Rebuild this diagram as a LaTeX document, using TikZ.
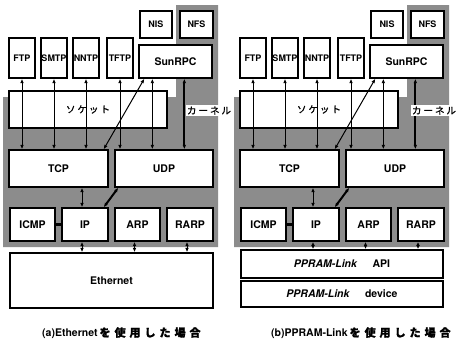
\documentclass[tikz,border=0pt]{standalone}
\usepackage{fontspec}
\setmainfont{TeX Gyre Heros}
\newfontfamily\jp[FakeBold=1.2]{Noto Sans CJK JP}
\usetikzlibrary{arrows.meta}
\newcommand\drawstack[2]{% #1 prefix, #2 x of kernel label
  \fill[kernarea] (3,97) -- (176,97) -- (176,5) -- (218,5) -- (218,247) -- (3,247) -- cycle;
  \node[sbox, minimum width=32pt, minimum height=27pt] (#1NIS) at (156,24.5) {NIS};
  \node[sbox, minimum width=33pt, minimum height=27pt] (#1NFS) at (196.5,24.5) {NFS};
  \node[sbox, minimum width=26pt, minimum height=40pt] (#1FTP) at (22,58) {FTP};
  \node[sbox, minimum width=26pt, minimum height=40pt] (#1SMTP) at (54,58) {SMTP};
  \node[sbox, minimum width=26pt, minimum height=40pt] (#1NNTP) at (86,58) {NNTP};
  \node[sbox, minimum width=26pt, minimum height=40pt] (#1TFTP) at (120,58) {TFTP};
  \node[box, minimum width=73pt, minimum height=33pt] (#1Sun) at (175.5,61.5) {SunRPC};
  \node[box, minimum width=158pt, minimum height=37pt, font=\jp\fontsize{9.5}{10}\selectfont] (#1Sock) at (88,109.5) {ソ\kern2ptケ\kern2ptッ\kern2ptト};
  \node[box, minimum width=99pt, minimum height=37pt] (#1TCP) at (58.5,168.5) {TCP};
  \node[box, minimum width=98pt, minimum height=37pt] (#1UDP) at (164,168.5) {UDP};
  \node[box, minimum width=45pt, minimum height=33pt] (#1ICMP) at (32.5,224.5) {ICMP};
  \node[box, minimum width=46pt, minimum height=33pt] (#1IP) at (85,224.5) {IP};
  \node[box, minimum width=45pt, minimum height=33pt] (#1ARP) at (137.5,224.5) {ARP};
  \node[box, minimum width=46pt, minimum height=33pt] (#1RARP) at (190,224.5) {RARP};
  \coordinate (#1sa) at ([xshift=14pt]#1Sun.south west);
  \coordinate (#1sb) at ([xshift=46pt]#1Sun.south west);
  \coordinate (#1sc) at ([xshift=6pt]#1Sun.south west);
  \coordinate (#1tc) at ([xshift=-5pt]#1TCP.north east);
  \coordinate (#1ipt) at ([xshift=-3pt]#1IP.north);
  \coordinate (#1ud) at ([xshift=4pt]#1UDP.south west);
  \coordinate (#1ipr) at ([xshift=-5pt]#1IP.north east);
  \draw[arr] (#1FTP.south) -- (#1FTP.south |- #1TCP.north);
  \draw[arr] (#1SMTP.south) -- (#1SMTP.south |- #1TCP.north);
  \draw[arr] (#1NNTP.south) -- (#1NNTP.south |- #1TCP.north);
  \draw[arr] (#1TFTP.south) -- (#1TFTP.south |- #1UDP.north);
  \draw[arr] (#1sa) -- (#1sa |- #1UDP.north);
  \draw[tarr] (#1sb) -- (#1sb |- #1UDP.north);
  \draw[arr] (#1tc) -- (#1sc);
  \draw[arr] (#1ipt) -- (#1ipt |- #1TCP.south);
  \draw[tarr] (#1ud) -- (#1ipr);
  \draw[line width=2.8pt] (#1ICMP.east) -- (#1IP.west);
  \node[jlab, fill=white] (#1Kern) at (#2,110.5) {カ\kern2pt ー\kern2pt ネ\kern2pt ル};
}
\newcommand\drawlinks[2]{% #1 prefix, #2 target node
  \coordinate (#1ipb) at ([xshift=-3pt]#1IP.south);
  \coordinate (#1arb) at ([xshift=-3pt]#1ARP.south);
  \coordinate (#1rab) at ([xshift=-3pt]#1RARP.south);
  \draw[arr] (#1ipb) -- (#1ipb |- #2.north);
  \draw[arr] (#1arb) -- (#1arb |- #2.north);
  \draw[arr] (#1rab) -- (#1rab |- #2.north);
}
\begin{document}
\begin{tikzpicture}[x=1pt,y=-1pt,
  box/.style={draw, line width=1.3pt, fill=white, inner sep=0pt, font=\bfseries\fontsize{10.5}{12}\selectfont},
  sbox/.style={box, font=\bfseries\fontsize{9}{10}\selectfont},
  kernarea/.style={fill=black!45, draw=none},
  arr/.style={line width=1pt, {Latex[length=4.5pt,width=3.6pt]}-{Latex[length=4.5pt,width=3.6pt]}},
  tarr/.style={arr, line width=2pt},
  jlab/.style={font=\jp\fontsize{9.5}{10}\selectfont, inner sep=1pt},
  captext/.style={anchor=west, inner sep=0pt, font=\bfseries\fontsize{10.5}{12}\selectfont}]
\useasboundingbox (0,0) rectangle (456,343);
\fill[white] (0,0) rectangle (456,343);
% panel (a)
\begin{scope}
  \drawstack{a}{209}
  \node[box, minimum width=203pt, minimum height=55pt] (aEth) at (111.5,280.5) {Ethernet};
  \drawlinks{a}{aEth}
\end{scope}
% panel (b)
\begin{scope}[xshift=231pt]
  \drawstack{b}{203}
  \node[box, minimum width=202pt, minimum height=28pt] (bAPI) at (111,264) {\textit{PPRAM-Link}\hspace{15pt}API\hspace{31pt}};
  \node[box, minimum width=202pt, minimum height=26pt] (bDev) at (111,294) {\textit{PPRAM-Link}\hspace{15pt}device\hspace{15pt}};
  \drawlinks{b}{bAPI}
\end{scope}
\node[captext] (capa) at (42,333) {(a)Ethernet\kern2pt{\jp\fontsize{11}{12}\selectfont を\kern4pt 使\kern4pt 用\kern4pt し\kern4pt た\kern4pt 場\kern4pt 合}};
\node[captext] (capb) at (271,333) {(b)PPRAM-Link\kern2pt{\jp\fontsize{11}{12}\selectfont を\kern4pt 使\kern4pt 用\kern4pt し\kern4pt た\kern4pt 場\kern4pt 合}};
\end{tikzpicture}
\end{document}
